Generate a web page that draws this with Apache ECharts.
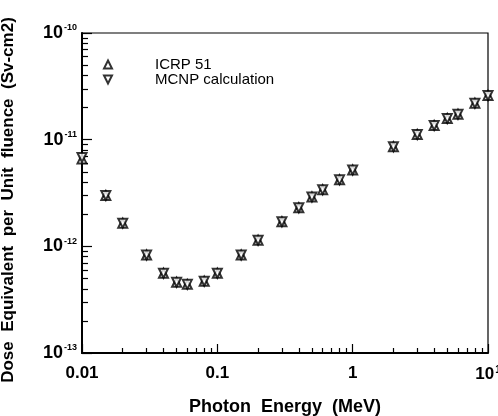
<!DOCTYPE html>
<html>
<head>
<meta charset="utf-8">
<script src="https://cdn.jsdelivr.net/npm/echarts@6/dist/echarts.min.js"></script>
<style>
  html, body { margin: 0; padding: 0; background: #fff; }
  #main { width: 498px; height: 416px; }
</style>
</head>
<body>
<div id="main"></div>
<script>
// photon energies (MeV)
var energies = [0.01, 0.015, 0.02, 0.03, 0.04, 0.05, 0.06, 0.08, 0.1, 0.15, 0.2, 0.3,
  0.4, 0.5, 0.6, 0.8, 1, 2, 3, 4, 5, 6, 8, 10];
// dose equivalent per unit fluence (Sv-cm2)
var icrp51 = [6.6e-12, 3.0e-12, 1.65e-12, 8.3e-13, 5.6e-13, 4.6e-13, 4.4e-13, 4.7e-13, 5.6e-13,
  8.3e-13, 1.14e-12, 1.7e-12, 2.3e-12, 2.9e-12, 3.4e-12, 4.2e-12, 5.2e-12, 8.6e-12,
  1.12e-11, 1.36e-11, 1.58e-11, 1.73e-11, 2.2e-11, 2.6e-11];
var mcnp = [6.8e-12, 3.0e-12, 1.65e-12, 8.3e-13, 5.6e-13, 4.6e-13, 4.4e-13, 4.7e-13, 5.6e-13,
  8.3e-13, 1.14e-12, 1.7e-12, 2.3e-12, 2.9e-12, 3.4e-12, 4.2e-12, 5.2e-12, 8.6e-12,
  1.12e-11, 1.36e-11, 1.58e-11, 1.73e-11, 2.2e-11, 2.6e-11];

var xTicks = [0.01, 0.1, 1, 10];
var yTicks = [1e-13, 1e-12, 1e-11, 1e-10];

function minorTicks(majors) {
  var out = [];
  for (var i = 0; i < majors.length - 1; i++) {
    for (var k = 2; k <= 9; k++) out.push(majors[i] * k);
  }
  return out;
}

function pairs(xs, ys) {
  return xs.map(function (x, i) { return [x, ys[i]]; });
}

var font = '"Liberation Sans", Arial, sans-serif';

var myChart = echarts.init(document.getElementById('main'));
var option = {
  animation: false,
  grid: {
    left: 82, right: 10, top: 33, bottom: 63,
    outerBoundsMode: 'none', containLabel: false,
    show: true, borderColor: '#000', borderWidth: 1.2
  },
  legend: {
    orient: 'vertical',
    left: 98, top: 52,
    itemWidth: 8, itemHeight: 8,
    itemGap: 0,
    textStyle: { fontFamily: font, fontSize: 15, color: '#000', lineHeight: 12, padding: [0, 0, 0, 38] },
    data: [
      { name: 'ICRP 51', icon: 'triangle' },
      { name: 'MCNP calculation', icon: 'path://M0,0L10,0L5,10Z' }
    ]
  },
  xAxis: [{
    type: 'log', min: 0.01, max: 10,
    name: 'Photon  Energy  (MeV)', nameLocation: 'middle', nameGap: 45,
    nameTextStyle: { fontFamily: font, fontSize: 18, fontWeight: 'bold', color: '#000' },
    axisLine: { lineStyle: { color: '#000', width: 2 } },
    axisTick: { inside: true, length: 9, customValues: xTicks, lineStyle: { color: '#000', width: 1.2 } },
    axisLabel: {
      customValues: xTicks, margin: 12,
      formatter: function (v) {
        var r = Math.round(Math.log10(v));
        if (r === 1) return '{b|10}{s|1}';
        return '{b|' + xTicks[r + 2] + '}';
      },
      rich: {
        b: { fontFamily: font, fontSize: 17, fontWeight: 'bold', color: '#000' },
        s: { fontFamily: font, fontSize: 10, fontWeight: 'bold', color: '#000', padding: [0, 0, 9, 1] }
      }
    },
    splitLine: { show: false }
  }, {
    type: 'log', min: 0.01, max: 10, position: 'bottom',
    axisLine: { show: false },
    axisTick: { inside: true, length: 5, customValues: minorTicks(xTicks), lineStyle: { color: '#000', width: 1.2 } },
    axisLabel: { show: false },
    splitLine: { show: false }
  }],
  yAxis: [{
    type: 'log', min: 1e-13, max: 1e-10,
    name: 'Dose  Equivalent  per  Unit  fluence  (Sv-cm2)', nameLocation: 'middle', nameGap: 65,
    nameTextStyle: { fontFamily: font, fontSize: 17, fontWeight: 'bold', color: '#000', padding: [0, 14, 0, 0] },
    axisLine: { lineStyle: { color: '#000', width: 2 } },
    axisTick: { inside: true, length: 10, customValues: yTicks, lineStyle: { color: '#000', width: 1.2 } },
    axisLabel: {
      customValues: yTicks, margin: 5,
      formatter: function (v) {
        var e = Math.round(Math.log10(v));
        return '{b|10}{s|' + e + '}';
      },
      rich: {
        b: { fontFamily: font, fontSize: 18, fontWeight: 'bold', color: '#000' },
        s: { fontFamily: font, fontSize: 9, fontWeight: 'bold', color: '#000', padding: [0, 0, 10, 1] }
      }
    },
    splitLine: { show: false }
  }, {
    type: 'log', min: 1e-13, max: 1e-10, position: 'left',
    axisLine: { show: false },
    axisTick: { inside: true, length: 6, customValues: minorTicks(yTicks), lineStyle: { color: '#000', width: 1.2 } },
    axisLabel: { show: false },
    splitLine: { show: false }
  }],
  series: [{
    name: 'ICRP 51',
    type: 'scatter',
    symbol: 'triangle',
    symbolSize: [9, 9],
    itemStyle: { color: '#fff', borderColor: '#000', borderWidth: 2 },
    data: pairs(energies, icrp51)
  }, {
    name: 'MCNP calculation',
    type: 'scatter',
    symbol: 'triangle',
    symbolRotate: 180,
    symbolSize: [9, 9],
    itemStyle: { color: '#fff', borderColor: '#000', borderWidth: 2 },
    data: pairs(energies, mcnp)
  }]
};
myChart.setOption(option);
</script>
</body>
</html>
